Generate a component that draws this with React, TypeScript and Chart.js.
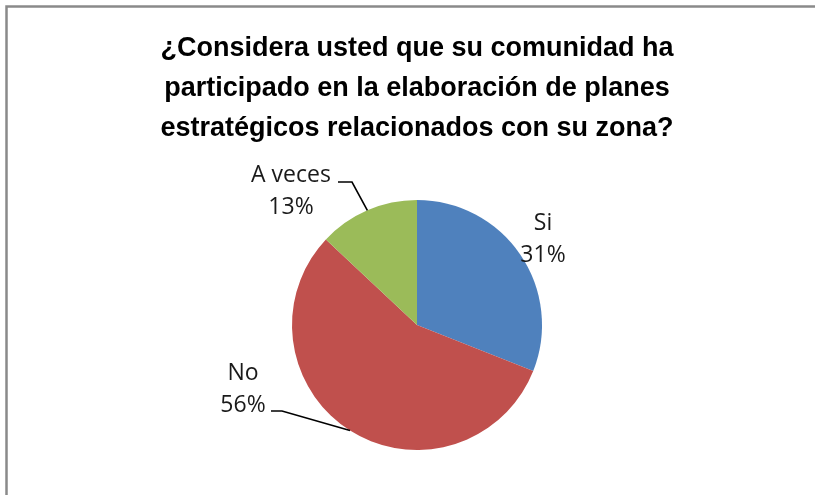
import React, { useEffect, useRef } from "react";
import { Chart, registerables } from "chart.js";

Chart.register(...registerables);

const categories = ["Si", "No", "A veces"];
const percentages = [31, 56, 13];
const titleLines = [
  "¿Considera usted que su comunidad ha",
  "participado en la elaboración de planes",
  "estratégicos relacionados con su zona?",
];
const sliceColors = ["#4F81BD", "#C0504D", "#9BBB59"];

const labelPlugin = {
  id: "sliceLabels",
  beforeDraw(chart: any) {
    const ctx = chart.ctx;
    ctx.save();
    ctx.strokeStyle = "#8a8a8a";
    ctx.lineWidth = 2.5;
    ctx.beginPath();
    ctx.moveTo(6.5, chart.height);
    ctx.lineTo(6.5, 6.5);
    ctx.lineTo(chart.width, 6.5);
    ctx.stroke();
    ctx.restore();
  },
  afterDatasetsDraw(chart: any, _args: any, opts: any) {
    const ctx = chart.ctx;
    const meta = chart.getDatasetMeta(0);
    const data = chart.data.datasets[0].data;
    ctx.save();
    ctx.font = opts.font;
    ctx.fillStyle = opts.color;
    ctx.textAlign = "center";
    ctx.textBaseline = "middle";
    meta.data.forEach((arc: any, i: number) => {
      const p = arc.getProps(["x", "y", "startAngle", "endAngle", "outerRadius"], true);
      const cfg = opts.items[i];
      const mid = (p.startAngle + p.endAngle) / 2;
      const cx = p.x + cfg.dx;
      const cy = p.y + cfg.dy;
      if (cfg.leader) {
        const ex = p.x + Math.cos(mid) * p.outerRadius;
        const ey = p.y + Math.sin(mid) * p.outerRadius;
        ctx.strokeStyle = "#000";
        ctx.lineWidth = 1.6;
        ctx.beginPath();
        ctx.moveTo(p.x + cfg.leader[0][0], p.y + cfg.leader[0][1]);
        ctx.lineTo(p.x + cfg.leader[1][0], p.y + cfg.leader[1][1]);
        ctx.lineTo(ex, ey);
        ctx.stroke();
      }
      ctx.fillText(chart.data.labels[i], cx, cy - opts.lineGap / 2);
      ctx.fillText(data[i] + "%", cx, cy + opts.lineGap / 2);
    });
    ctx.restore();
  },
};

export default function App() {
  const ref = useRef<HTMLCanvasElement>(null);
  useEffect(() => {
    if (!ref.current) return;
    const chart = new Chart(ref.current, {
      type: "pie",
      data: {
        labels: categories,
        datasets: [
          {
            data: percentages,
            backgroundColor: sliceColors,
            borderWidth: 0,
          },
        ],
      },
      options: {
        responsive: false,
        animation: false,
        layout: { padding: { left: 19, right: 0, top: 0, bottom: 45 } },
        plugins: {
          legend: { display: false },
          tooltip: { enabled: false },
          title: {
            display: true,
            text: titleLines,
            color: "#000",
            font: { family: "Liberation Sans", size: 27, weight: "bold", lineHeight: 40 / 27 },
            padding: { top: 29, bottom: 51 },
          },
          sliceLabels: {
            font: "23px 'Open Sans'",
            color: "#1a1a1a",
            lineGap: 32,
            items: [
              { dx: 126, dy: -86 },
              { dx: -174, dy: 64, leader: [[-146, 86], [-135, 86]] },
              { dx: -126, dy: -134, leader: [[-79, -143], [-65, -143]] },
            ],
          },
        } as any,
      },
      plugins: [labelPlugin],
    });
    return () => chart.destroy();
  }, []);
  return (
    <div style={{ position: "absolute", left: 0, top: 0, width: 815, height: 495, background: "#fff" }}>
      <canvas ref={ref} width={815} height={495} />
    </div>
  );
}
